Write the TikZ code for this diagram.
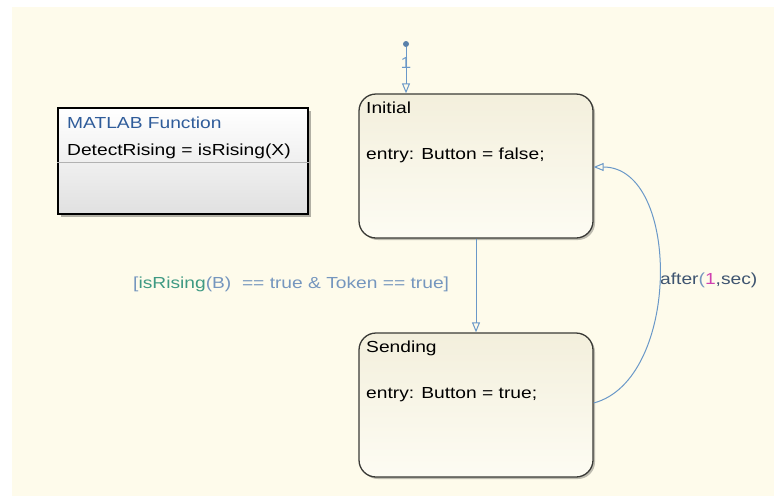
\documentclass[tikz,border=0pt]{standalone}
\usepackage{fontspec}
\setmainfont{Liberation Sans}[FakeStretch=1.2]
\usetikzlibrary{arrows.meta,shadows}

\definecolor{canvas}{HTML}{FEFBEB}
\definecolor{wire}{HTML}{6A98C8}
\definecolor{guardtxt}{HTML}{7596BE}
\definecolor{fnname}{HTML}{3F9A83}
\definecolor{hdrblue}{HTML}{2F5C9A}
\definecolor{slate}{HTML}{3E5470}
\definecolor{numpink}{HTML}{D040B0}
\definecolor{stateborder}{HTML}{3A3A36}
\definecolor{statetop}{HTML}{F3EFDC}
\definecolor{statebot}{HTML}{FDFCF3}

\tikzset{
  txt/.style={inner sep=0pt, anchor=base west, font=\fontsize{16}{19}\selectfont},
  statebox/.style={draw=stateborder, line width=1.3pt, rounded corners=17pt,
    top color=statetop, bottom color=statebot,
    minimum width=234pt, minimum height=144pt, inner sep=0pt,
    drop shadow={shadow xshift=2pt, shadow yshift=-2pt, opacity=0.25, fill=black}},
  fnbox/.style={draw=black, line width=2.6pt, top color=white, bottom color=black!12,
    minimum width=250pt, minimum height=106pt, inner sep=0pt,
    drop shadow={shadow xshift=2.5pt, shadow yshift=-2.5pt, opacity=0.3, fill=black}},
  trans/.style={draw=wire, line width=1pt,
    -{Triangle[open, length=10pt, width=8pt]}},
}

\begin{document}
\begin{tikzpicture}[x=1pt, y=-1pt]
  % page and canvas
  \fill[white] (0,0) rectangle (774,496);
  \fill[canvas] (12,7) rectangle (774,496);
  \useasboundingbox (0,0) rectangle (774,496);

  % MATLAB function block
  \node[fnbox] (fn) at (183,161) {};
  \draw[black!30, line width=0.8pt] (fn.west |- 0,162) -- (fn.east |- 0,162);
  \node[txt, text=hdrblue] (fnhdr) at (67,128) {MATLAB Function};
  \node[txt] (fnsig) at (67,155) {DetectRising = isRising(X)};

  % states
  \node[statebox] (init) at (476,166) {};
  \node[txt] (initname) at (366,113) {Initial};
  \node[txt] (initentry) at (366,159) {entry: Button = false;};

  \node[statebox] (send) at (476,405) {};
  \node[txt] (sendname) at (366,352) {Sending};
  \node[txt] (sendentry) at (366,398) {entry: Button = true;};

  % default transition
  \node[circle, fill=wire!85!black, inner sep=0pt, minimum size=6pt] (dflt) at (406,44) {};
  \draw[trans] (dflt) -- (init.north -| dflt);
  \node[txt, anchor=base, text=wire] (prio) at (406,68) {1};

  % Initial -> Sending
  \draw[trans] (init.south) -- (send.north);
  \node[txt, text=guardtxt] (guard) at (133,288)
    {[\textcolor{fnname}{isRising}(B)\ \ == true \& Token == true]};

  % Sending -> Initial after a delay
  \coordinate (outS) at (send.east |- 0,403);
  \coordinate (inI) at (init.east |- 0,167);
  \draw[trans] (outS) .. controls (681,380) and (681,167) .. (inI);
  \node[txt, text=slate] (delay) at (660,284)
    {after\textcolor{guardtxt}{(}\textcolor{numpink}{1},sec)};
\end{tikzpicture}
\end{document}
